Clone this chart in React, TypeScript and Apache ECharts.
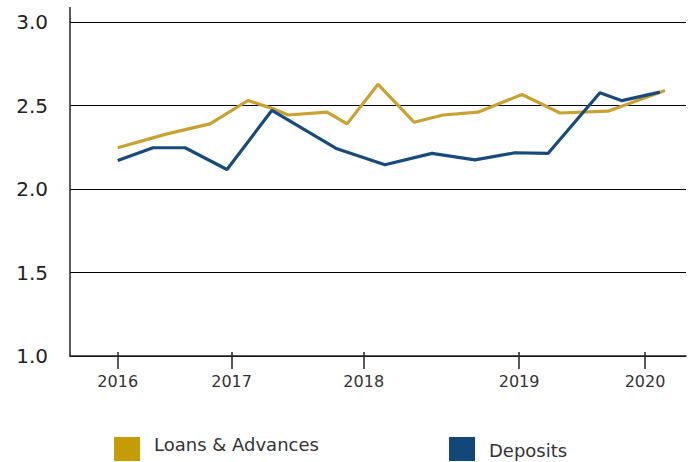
import React, { useEffect, useRef } from "react";
import * as echarts from "echarts";

// x positions are on a continuous period scale where the 2016 tick = 0 and the 2020 tick = 4
const yearLabels = ["2016", "2017", "2018", "2019", "2020"];
const yearTickPositions = [0, 0.864, 1.866, 3.045, 4.0];

const loansX = [0.0, 0.374, 0.7, 0.988, 1.17, 1.292, 1.588, 1.74, 1.975, 2.248, 2.468, 2.733, 3.067, 3.355, 3.719, 4.152];
const loansY = [2.247, 2.33, 2.39, 2.53, 2.483, 2.443, 2.46, 2.39, 2.627, 2.4, 2.443, 2.46, 2.566, 2.455, 2.466, 2.59];

const depositsX = [0.0, 0.268, 0.511, 0.829, 1.17, 1.663, 2.027, 2.384, 2.71, 3.013, 3.264, 3.658, 3.825, 4.113];
const depositsY = [2.171, 2.247, 2.247, 2.117, 2.471, 2.241, 2.145, 2.213, 2.174, 2.217, 2.213, 2.576, 2.529, 2.58];

const seriesNames = ["Loans & Advances", "Deposits"];
const lineColors = ["#C9A232", "#184B7C"];
const legendColors = ["#C49C04", "#124879"];

export default function App() {
  const ref = useRef<HTMLDivElement>(null);
  useEffect(() => {
    if (!ref.current) return;
    const chart = echarts.init(ref.current, null, { renderer: "svg" });
    const xMin = -0.362;
    const xMax = 4.311;
    const fmt = (v: number) => {
      const i = yearTickPositions.findIndex((p) => Math.abs(p - v) < 1e-6);
      return i >= 0 ? yearLabels[i] : "";
    };
    chart.setOption({
      animation: false,
      grid: { left: 70, right: 7, top: 22, bottom: 106, containLabel: false },
      xAxis: [
        {
          type: "value",
          min: xMin,
          max: xMax,
          position: "bottom",
          splitLine: { show: false },
          axisLine: { show: true, onZero: false, lineStyle: { color: "#222", width: 1.5 } },
          axisTick: {
            show: true,
            inside: false,
            length: 13,
            customValues: yearTickPositions,
            lineStyle: { color: "#222", width: 1.5 },
          },
          axisLabel: {
            show: true,
            customValues: yearTickPositions,
            formatter: fmt,
            margin: 17,
            fontSize: 16,
            color: "#333",
            fontFamily: "DejaVu Sans",
          },
        },
        {
          type: "value",
          min: xMin,
          max: xMax,
          position: "bottom",
          splitLine: { show: false },
          axisLine: { show: false, onZero: false },
          axisTick: {
            show: true,
            inside: true,
            length: 4,
            customValues: yearTickPositions,
            lineStyle: { color: "#222", width: 1.5 },
          },
          axisLabel: { show: false },
        },
      ],
      yAxis: {
        type: "value",
        min: 1.0,
        max: 3.0,
        interval: 0.5,
        position: "left",
        axisLine: { show: true, onZero: false, lineStyle: { color: "#222", width: 1.5 } },
        axisTick: { show: false },
        splitLine: { show: true, lineStyle: { color: "#000", width: 1 } },
        axisLabel: {
          formatter: (v: number) => v.toFixed(1),
          margin: 22,
          fontSize: 20,
          color: "#222",
          fontFamily: "DejaVu Sans",
        },
      },
      series: [
        {
          name: seriesNames[0],
          type: "line",
          data: loansX.map((x, i) => [x, loansY[i]]),
          showSymbol: false,
          lineStyle: { color: lineColors[0], width: 3.2 },
          itemStyle: { color: lineColors[0] },
          z: 3,
        },
        {
          name: seriesNames[1],
          type: "line",
          data: depositsX.map((x, i) => [x, depositsY[i]]),
          showSymbol: false,
          lineStyle: { color: lineColors[1], width: 3.2 },
          itemStyle: { color: lineColors[1] },
          z: 4,
        },
      ],
      graphic: [
        {
          type: "line",
          shape: { x1: 70, y1: 7, x2: 70, y2: 22 },
          style: { stroke: "#222", lineWidth: 1.5 },
        },
        { type: "rect", shape: { x: 114, y: 437, width: 26, height: 24 }, style: { fill: legendColors[0] } },
        {
          type: "text",
          x: 154,
          y: 444,
          style: {
            text: seriesNames[0],
            fontSize: 18,
            fontFamily: "DejaVu Sans",
            fill: "#333",
            textVerticalAlign: "middle",
            verticalAlign: "middle",
          },
        },
        { type: "rect", shape: { x: 449, y: 437, width: 26, height: 24 }, style: { fill: legendColors[1] } },
        {
          type: "text",
          x: 489,
          y: 450,
          style: {
            text: seriesNames[1],
            fontSize: 18,
            fontFamily: "DejaVu Sans",
            fill: "#333",
            textVerticalAlign: "middle",
            verticalAlign: "middle",
          },
        },
      ],
    });
    return () => chart.dispose();
  }, []);
  return <div ref={ref} style={{ width: 693, height: 462, position: "absolute", left: 0, top: 0 }} />;
}
